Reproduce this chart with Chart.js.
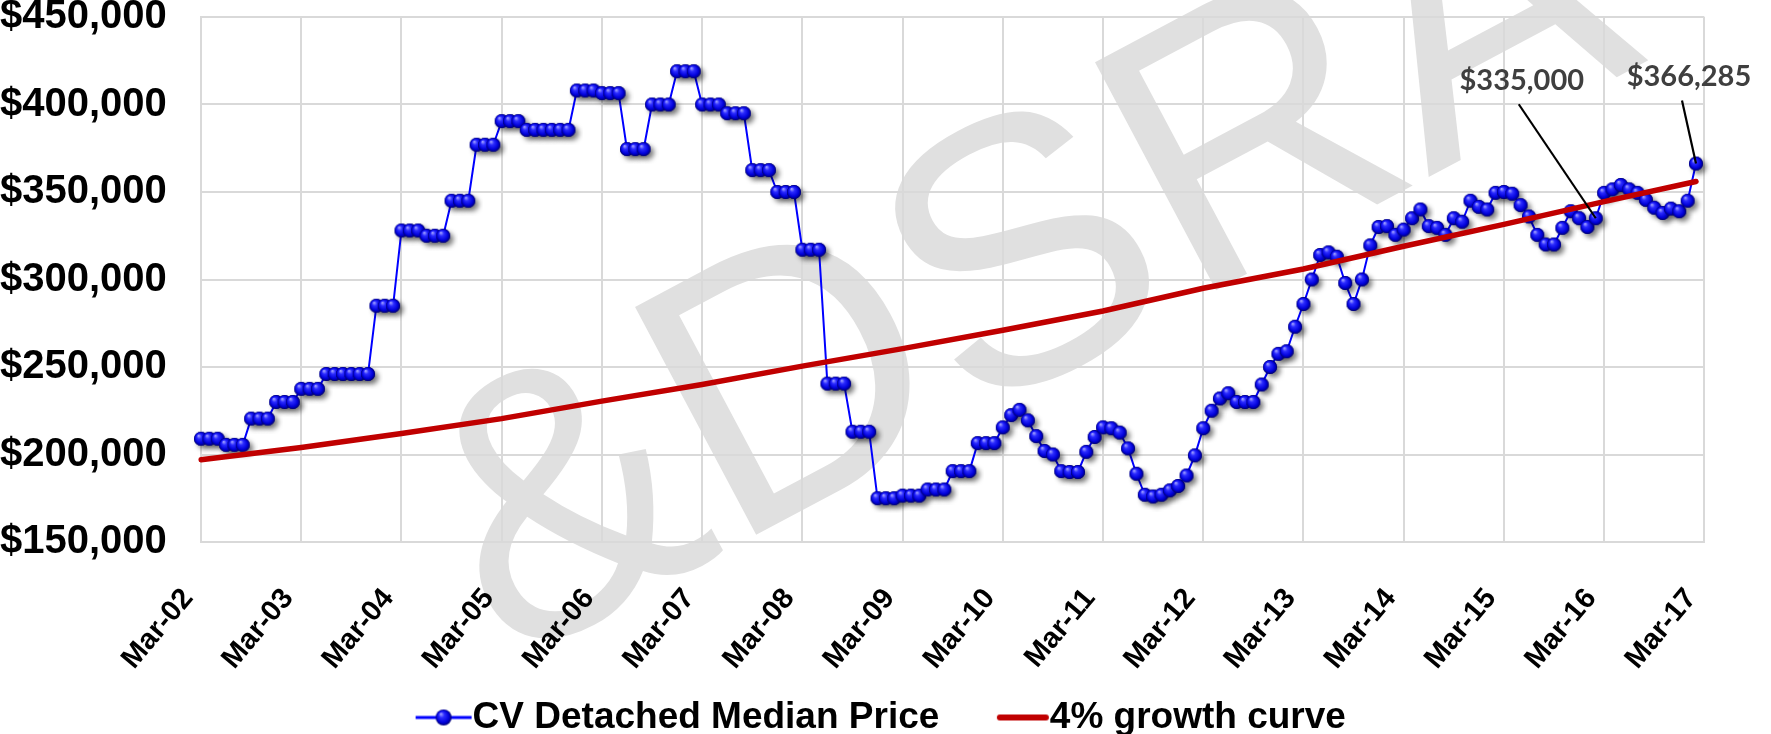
<!DOCTYPE html>
<html><head><meta charset="utf-8">
<script src="https://cdn.jsdelivr.net/npm/chart.js@4.4.1/dist/chart.umd.min.js"></script>
<style>html,body{margin:0;padding:0;background:#fff;overflow:hidden}#wrap{width:1771px;height:734px}</style>
</head><body><div id="wrap"><canvas id="c" width="1771" height="734"></canvas></div>
<script>
// ---------- DATA ----------
const MONTH_NAMES = ['Jan','Feb','Mar','Apr','May','Jun','Jul','Aug','Sep','Oct','Nov','Dec'];
const firstYear = 2002, firstMonthIndex = 2, monthCount = 181; // Mar-02 .. Mar-17
const categories = [];
for (let i = 0; i < monthCount; i++) {
  const m = (firstMonthIndex + i) % 12;
  const y = firstYear + Math.floor((firstMonthIndex + i) / 12);
  categories.push(MONTH_NAMES[m] + '-' + String(y % 100).padStart(2, '0'));
}
const tickLabels = ['Mar-02','Mar-03','Mar-04','Mar-05','Mar-06','Mar-07','Mar-08','Mar-09','Mar-10','Mar-11','Mar-12','Mar-13','Mar-14','Mar-15','Mar-16','Mar-17'];

// CV Detached Median Price, monthly from Mar-02
const medianPrice = [
  209000,209000,209000, 205500,205500,205500, 220500,220500,220500, 230000,230000,230000,
  237500,237500,237500, 246000,246000,246000, 246000,246000,246000, 285000,285000,285000,
  328000,328000,328000, 325000,325000,325000, 345000,345000,345000, 377000,377000,377000,
  390500,390500,390500, 385500,385500,385500, 385500,385500,385500, 408000,408000,408000,
  406500,406500,406500, 374500,374500,374500, 400000,400000,400000, 419000,419000,419000,
  400000,400000,400000, 395000,395000,395000, 362500,362500,362500, 350000,350000,350000,
  317000,317000,317000, 240500,240500,240500, 213000,213000,213000, 175000,175000,175000,
  176500,176500,176500, 180000,180000,180000, 190500,190500,190500, 206500,206500,206500,
  215500,222500,225500,219500,210500,202000,200000,190500,190000,190000,201500,210000,
  215500,215000,212500,203500,189000,177000,176000,177000,179500,182000,188000,199500,
  215000,225000,232000,235000,230000,230000,230000,240000,250000,257500,259000,273000,
  286000,300000,314000,315500,313000,298000,286000,300000,319500,330000,330500,325500,
  328500,335000,340000,330500,329500,325500,335000,333000,345000,341500,340000,349500,
  350000,349000,342500,336000,325500,320000,320000,329500,339000,335000,330000,335000,
  349500,351500,354000,351500,349500,345500,341000,338000,340500,339000,345000,366285
];

// 4% growth curve, read at each March (Mar-02 .. Mar-16) plus its end point (Feb-17)
const growthMarch = [197000,204000,212000,220500,230500,240000,250500,260500,271000,282000,295000,306000,319000,331500,344500];
const growthEnd = { label: 'Feb-17', value: 356000 };

const seriesNames = ['CV Detached Median Price', '4% growth curve'];
const calloutIndices = [167, 179];

// y axis
const yMin = 150000, yMax = 450000, yStep = 50000;

// ---------- build library tables ----------
const growthSeries = categories.map((lab, i) => (i % 12 === 0 && i / 12 < growthMarch.length) ? growthMarch[i / 12] : null);
growthSeries[categories.indexOf(growthEnd.label)] = growthEnd.value;

const SANS = '"Liberation Sans", Arial, sans-serif';

// ---------- marker images ----------
function makeBall(r, withShadow) {
  const pad = withShadow ? 8 : 2, size = Math.ceil(2 * (r + pad));
  const c = document.createElement('canvas'); c.width = size; c.height = size;
  const g = c.getContext('2d'); const cx = size / 2, cy = size / 2;
  if (withShadow) {
    g.save(); g.shadowColor = 'rgba(0,0,0,0.5)'; g.shadowBlur = 5; g.shadowOffsetX = 3.5; g.shadowOffsetY = 3.5;
    g.fillStyle = '#00008a'; g.beginPath(); g.arc(cx, cy, r, 0, Math.PI * 2); g.fill(); g.restore();
  }
  const grad = g.createRadialGradient(cx - r * 0.35, cy - r * 0.45, 0.5, cx, cy, r);
  grad.addColorStop(0, '#9a9aff'); grad.addColorStop(0.3, '#2b2bff'); grad.addColorStop(0.75, '#0000d8'); grad.addColorStop(1, '#000070');
  g.fillStyle = grad; g.beginPath(); g.arc(cx, cy, r, 0, Math.PI * 2); g.fill();
  return c;
}
const ball = makeBall(7, true);

const LEG_W = 129;
function legendBlue() {
  const c = document.createElement('canvas'); c.width = LEG_W; c.height = 24;
  const g = c.getContext('2d');
  g.strokeStyle = '#0000FF'; g.lineWidth = 3; g.beginPath(); g.moveTo(LEG_W - 57, 12); g.lineTo(LEG_W - 1, 12); g.stroke();
  const b = makeBall(8, false); g.drawImage(b, LEG_W - 29 - b.width / 2, 12 - b.height / 2);
  return c;
}
function legendRed() {
  const c = document.createElement('canvas'); c.width = LEG_W; c.height = 24;
  const g = c.getContext('2d');
  g.strokeStyle = '#C00000'; g.lineWidth = 6; g.lineCap = 'round'; g.beginPath(); g.moveTo(LEG_W - 50, 12); g.lineTo(LEG_W - 4, 12); g.stroke();
  return c;
}

// ---------- plugins ----------
const watermark = {
  id: 'watermark',
  beforeDraw(chart) {
    const ctx = chart.ctx; ctx.save();
    ctx.fillStyle = '#ffffff'; ctx.fillRect(0, 0, chart.width, chart.height);
    ctx.translate(1030, 272); ctx.rotate(-28 * Math.PI / 180);
    ctx.font = '375px "Liberation Sans", Arial, sans-serif';
    ctx.fillStyle = '#E0E0E0'; ctx.textAlign = 'center'; ctx.textBaseline = 'middle';
    ctx.fillText('&DSRA', 0, 0);
    ctx.restore();
  }
};
const calloutStyle = { 167: { tx: -74, ty: -138, lx: -77, ly: -114 }, 179: { tx: -7, ty: -87, lx: -14, ly: -63 } };
const callouts = {
  id: 'callouts',
  afterDatasetsDraw(chart) {
    const ctx = chart.ctx; const meta = chart.getDatasetMeta(0);
    ctx.save();
    for (const idx of calloutIndices) {
      const p = meta.data[idx]; if (!p) continue; const s = calloutStyle[idx];
      ctx.strokeStyle = '#000'; ctx.lineWidth = 2.2; ctx.beginPath();
      ctx.moveTo(p.x + s.lx, p.y + s.ly); ctx.lineTo(p.x, p.y); ctx.stroke();
      ctx.font = 'bold 29px Lato, "Open Sans", sans-serif'; ctx.fillStyle = '#3f3f3f';
      ctx.textAlign = 'center'; ctx.textBaseline = 'middle';
      ctx.fillText('$' + medianPrice[idx].toLocaleString('en-US'), p.x + s.tx, p.y + s.ty);
    }
    ctx.restore();
  }
};

// ---------- chart ----------
const blueIcon = legendBlue(), redIcon = legendRed();
new Chart(document.getElementById('c'), {
  type: 'line',
  data: {
    labels: categories,
    datasets: [
      { label: seriesNames[0], data: medianPrice, borderColor: '#0000FF', backgroundColor: '#0000FF', borderWidth: 2,
        pointStyle: ball, pointRadius: 7, pointHoverRadius: 7, tension: 0, order: 1 },
      { label: seriesNames[1], data: growthSeries, borderColor: '#C00000', backgroundColor: '#C00000', borderWidth: 5.5,
        pointRadius: 0, pointHoverRadius: 0, spanGaps: true, tension: 0, order: 0, borderCapStyle: 'round' }
    ]
  },
  options: {
    responsive: false, animation: false, devicePixelRatio: 1,
    events: [],
    layout: { padding: { left: 0, right: 63, top: 0, bottom: -12 } },
    plugins: {
      tooltip: { enabled: false },
      legend: {
        position: 'bottom',
        labels: {
          usePointStyle: true, pointStyleWidth: 92, boxWidth: 92, boxHeight: 37, padding: 0, color: '#000',
          font: { family: SANS, weight: 'bold', size: 37 },
          generateLabels: () => [
            { text: seriesNames[0], pointStyle: blueIcon, fillStyle: 'transparent', strokeStyle: 'transparent', lineWidth: 0, hidden: false, datasetIndex: 0, fontColor: '#000' },
            { text: seriesNames[1], pointStyle: redIcon, fillStyle: 'transparent', strokeStyle: 'transparent', lineWidth: 0, hidden: false, datasetIndex: 1, fontColor: '#000' }
          ]
        }
      }
    },
    scales: {
      x: {
        type: 'category', offset: false,
        grid: { color: c => (c.tick && c.tick.value % 12 === 0) ? '#D9D9D9' : 'rgba(0,0,0,0)', lineWidth: 2, drawTicks: false },
        border: { color: '#D9D9D9', width: 2 },
        ticks: {
          autoSkip: false, minRotation: 50, maxRotation: 50, padding: 40, labelOffset: -13, color: '#000',
          font: { family: SANS, weight: 'bold', size: 29 },
          callback: function (v) { return v % 12 === 0 ? tickLabels[v / 12] : null; }
        },
        afterFit: s => { s.height = 157; }
      },
      y: {
        min: yMin, max: yMax,
        grid: { color: '#D9D9D9', lineWidth: 2, drawTicks: false },
        border: { color: '#D9D9D9', width: 2 },
        ticks: { stepSize: yStep, padding: 0, crossAlign: 'far', color: '#000', font: { family: SANS, weight: 'bold', size: 40, lineHeight: 0.85 },
          callback: v => '$' + v.toLocaleString('en-US') },
        afterFit: s => { s.width = 201; }
      }
    }
  },
  plugins: [watermark, callouts]
});
</script></body></html>
